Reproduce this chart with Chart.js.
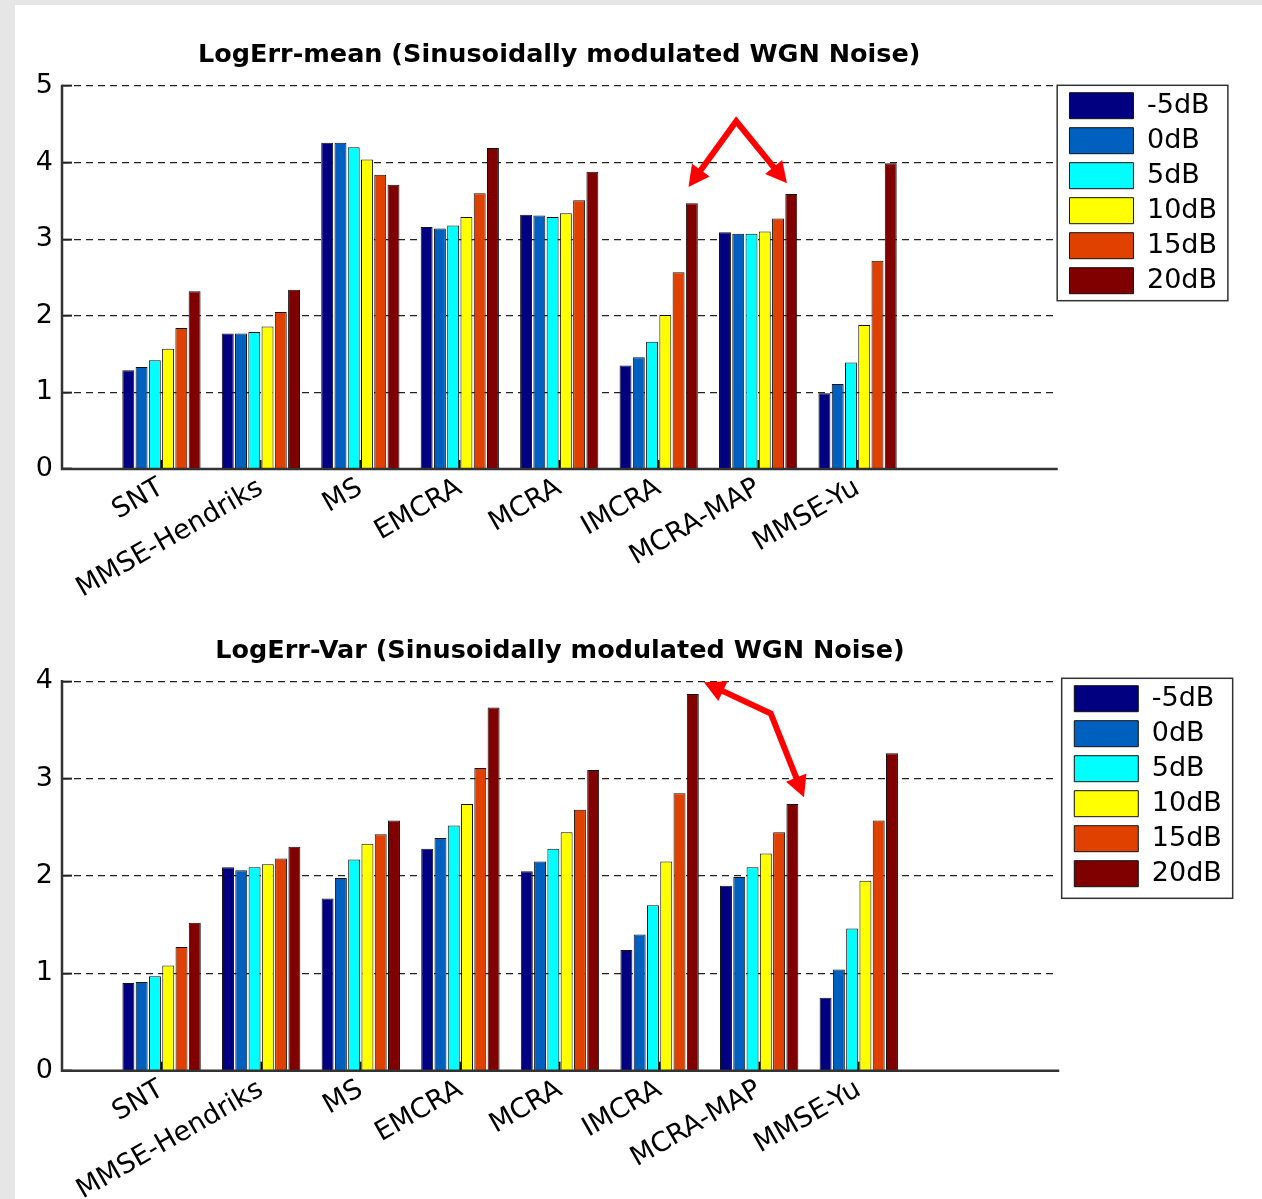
<!DOCTYPE html>
<html>
<head>
<meta charset="utf-8">
<title>LogErr (Sinusoidally modulated WGN Noise)</title>
<script src="https://cdn.jsdelivr.net/npm/chart.js@4.4.1/dist/chart.umd.min.js"></script>
<style>
  html, body { margin: 0; padding: 0; background: #e6e6e6; }
  body { width: 1262px; height: 1199px; position: relative; overflow: hidden; }
  .sheet { position: absolute; left: 15px; top: 5px; width: 1247px; height: 1194px; background: #fff; }
  .sheet canvas { position: absolute; left: 0; }
  #meanChart { top: 0; }
  #varChart { top: 595px; }
</style>
</head>
<body>
<div class="sheet">
  <canvas id="meanChart" width="1247" height="595"></canvas>
  <canvas id="varChart" width="1247" height="599"></canvas>
</div>
<script>
// ═══════════════════════════════════════════════════════
// LogErr-mean / LogErr-Var — noise estimators vs input SNR
// ═══════════════════════════════════════════════════════

// ─── DATA ───
const methods = ['SNT', 'MMSE-Hendriks', 'MS', 'EMCRA', 'MCRA', 'IMCRA', 'MCRA-MAP', 'MMSE-Yu'];
const snrLevels = ['-5dB', '0dB', '5dB', '10dB', '15dB', '20dB'];

const meanTicks = [0, 1, 2, 3, 4, 5];
const varTicks = [0, 1, 2, 3, 4];

// LogErr-mean, one array per SNR level (order follows `methods`)
const meanSnrM5 = [1.29, 1.77, 4.26, 3.16, 3.32, 1.35, 3.09, 0.99];
const meanSnr0  = [1.33, 1.77, 4.26, 3.14, 3.31, 1.46, 3.07, 1.11];
const meanSnr5  = [1.42, 1.79, 4.20, 3.18, 3.29, 1.66, 3.07, 1.39];
const meanSnr10 = [1.57, 1.86, 4.04, 3.29, 3.34, 2.01, 3.10, 1.88];
const meanSnr15 = [1.84, 2.05, 3.84, 3.60, 3.51, 2.57, 3.27, 2.72];
const meanSnr20 = [2.32, 2.34, 3.71, 4.19, 3.88, 3.47, 3.59, 3.99];

// LogErr-Var
const varSnrM5 = [0.90, 2.09, 1.77, 2.28, 2.05, 1.24, 1.90, 0.75];
const varSnr0  = [0.91, 2.06, 1.98, 2.39, 2.15, 1.40, 1.99, 1.04];
const varSnr5  = [0.97, 2.09, 2.17, 2.52, 2.28, 1.70, 2.09, 1.46];
const varSnr10 = [1.08, 2.12, 2.33, 2.74, 2.45, 2.15, 2.23, 1.95];
const varSnr15 = [1.27, 2.18, 2.43, 3.11, 2.68, 2.85, 2.45, 2.57];
const varSnr20 = [1.52, 2.30, 2.57, 3.73, 3.09, 3.87, 2.74, 3.26];

// red annotation arrows, in (category index, value) units
const meanArrow = [[6.30, 3.68], [6.78, 4.54], [7.29, 3.73]];
const varArrow = [[6.445, 3.99], [7.116, 3.67], [7.45, 2.81]];

(function () {
    'use strict';

    const FONT = 'DejaVu Sans';
    const levelColors = ['#000080', '#0060c0', '#00ffff', '#ffff00', '#e04000', '#800000'];

    Chart.defaults.font.family = FONT;
    Chart.defaults.color = '#000';

    // x runs 0..10 like the MATLAB axes, groups sit on 1..8
    const labels = ['', ...methods, '', ''];
    const pad = arr => [null, ...arr, null, null];

    // ─── PLUGINS ───
    const legendNudge = {
        id: 'legendNudge',
        afterLayout(chart, args, o) {
            const l = chart.legend;
            if (!l) return;
            l.left += o.dx; l.right += o.dx;
            l.top += o.dy; l.bottom += o.dy;
        }
    };

    const legendFrame = {
        id: 'legendFrame',
        afterDraw(chart, args, o) {
            const l = chart.legend;
            const p = chart.options.plugins.legend.labels.padding;
            const { ctx } = chart;
            ctx.save();
            ctx.setLineDash([]);
            ctx.strokeStyle = '#333';
            ctx.lineWidth = 1.5;
            ctx.strokeRect(l.left + p - o.inset, l.top + p - o.insetTop, o.w, o.h);
            ctx.restore();
        }
    };

    // solid left + bottom axis lines, MATLAB style (drawn over the bars' feet)
    const axisLines = {
        id: 'axisLines',
        afterDraw(chart) {
            const { ctx, chartArea: a } = chart;
            ctx.save();
            ctx.setLineDash([]);
            ctx.strokeStyle = '#333';
            ctx.lineWidth = 2.5;
            ctx.lineCap = 'square';
            ctx.beginPath();
            ctx.moveTo(a.left, a.top);
            ctx.lineTo(a.left, a.bottom);
            ctx.lineTo(a.right, a.bottom);
            ctx.stroke();
            ctx.restore();
        }
    };

    const arrows = {
        id: 'arrows',
        afterDatasetsDraw(chart, args, o) {
            const { ctx, scales: { x, y } } = chart;
            const pts = o.path.map(([a, b]) => [x.getPixelForValue(a), y.getPixelForValue(b)]);
            const L = 21, W = 11;
            const unit = (p, q) => {
                const dx = q[0] - p[0], dy = q[1] - p[1], d = Math.hypot(dx, dy);
                return [dx / d, dy / d];
            };
            const n = pts.length;
            const uStart = unit(pts[1], pts[0]);
            const uEnd = unit(pts[n - 2], pts[n - 1]);
            const line = pts.map(p => p.slice());
            line[0] = [pts[0][0] - uStart[0] * L * 0.8, pts[0][1] - uStart[1] * L * 0.8];
            line[n - 1] = [pts[n - 1][0] - uEnd[0] * L * 0.8, pts[n - 1][1] - uEnd[1] * L * 0.8];

            ctx.save();
            ctx.setLineDash([]);
            ctx.strokeStyle = '#ff0000';
            ctx.fillStyle = '#ff0000';
            ctx.lineWidth = 6;
            ctx.lineJoin = 'miter';
            ctx.beginPath();
            line.forEach((p, i) => i ? ctx.lineTo(p[0], p[1]) : ctx.moveTo(p[0], p[1]));
            ctx.stroke();

            [[pts[0], uStart], [pts[n - 1], uEnd]].forEach(([t, u]) => {
                const bx = t[0] - u[0] * L, by = t[1] - u[1] * L;
                ctx.beginPath();
                ctx.moveTo(t[0], t[1]);
                ctx.lineTo(bx - u[1] * W, by + u[0] * W);
                ctx.lineTo(bx + u[1] * W, by - u[0] * W);
                ctx.closePath();
                ctx.fill();
            });
            ctx.restore();
        }
    };

    // ─── CHART ───
    function buildChart(id, cfg) {
        const datasets = cfg.series.map((s, i) => ({
            label: snrLevels[i],
            data: pad(s),
            backgroundColor: levelColors[i],
            borderColor: '#111',
            borderWidth: 1,
            barPercentage: 0.9,
            categoryPercentage: 0.8
        }));

        return new Chart(document.getElementById(id), {
            type: 'bar',
            data: { labels, datasets },
            options: {
                responsive: false,
                animation: false,
                devicePixelRatio: 1,
                layout: { padding: { left: 7, right: cfg.padRight, top: 0, bottom: 0 } },
                plugins: {
                    tooltip: { enabled: false },
                    title: {
                        display: true,
                        fullSize: false,
                        text: cfg.title,
                        color: '#000',
                        font: { family: FONT, size: 25.5, weight: 'bold' },
                        padding: { top: cfg.titleTop, bottom: cfg.titleBottom }
                    },
                    legend: {
                        position: 'right',
                        align: 'start',
                        fullSize: false,
                        labels: {
                            boxWidth: 64,
                            boxHeight: 26,
                            padding: 8,
                            color: '#000',
                            font: { family: FONT, size: 27 }
                        }
                    },
                    legendNudge: cfg.nudge,
                    legendFrame: cfg.frame,
                    arrows: { path: cfg.arrow }
                },
                scales: {
                    x: {
                        type: 'category',
                        offset: false,
                        grid: {
                            offset: false,
                            drawOnChartArea: false,
                            drawTicks: true,
                            tickLength: -9,
                            tickWidth: 2,
                            tickColor: c => (c.index >= 1 && c.index <= methods.length) ? '#111' : 'rgba(0,0,0,0)'
                        },
                        border: { display: false },
                        ticks: {
                            autoSkip: false,
                            minRotation: 30,
                            maxRotation: 30,
                            padding: 12,
                            color: '#000',
                            font: { family: FONT, size: 27 }
                        },
                        afterFit: s => { s.height = cfg.xAxisHeight; }
                    },
                    y: {
                        min: 0,
                        max: cfg.ticks[cfg.ticks.length - 1],
                        afterBuildTicks: s => { s.ticks = cfg.ticks.map(v => ({ value: v })); },
                        grid: {
                            color: '#222',
                            lineWidth: 1.3,
                            drawTicks: true,
                            tickLength: -10,
                            tickWidth: 2,
                            tickColor: '#222'
                        },
                        border: { display: false, dash: [7, 5] },
                        ticks: {
                            padding: 19,
                            color: '#000',
                            font: { family: FONT, size: 27 }
                        },
                        afterFit: s => { s.width = 40; }
                    }
                }
            },
            plugins: [legendNudge, legendFrame, axisLines, arrows]
        });
    }

    // ─── INIT ───
    buildChart('meanChart', {
        title: 'LogErr-mean (Sinusoidally modulated WGN Noise)',
        series: [meanSnrM5, meanSnr0, meanSnr5, meanSnr10, meanSnr15, meanSnr20],
        ticks: meanTicks,
        arrow: meanArrow,
        padRight: 40,
        titleTop: 35,
        titleBottom: 15.4,
        xAxisHeight: 131,
        nudge: { dx: 5, dy: -1.8 },
        frame: { inset: 12.3, insetTop: 6.9, w: 170.7, h: 215.4 }
    });

    buildChart('varChart', {
        title: 'LogErr-Var (Sinusoidally modulated WGN Noise)',
        series: [varSnrM5, varSnr0, varSnr5, varSnr10, varSnr15, varSnr20],
        ticks: varTicks,
        arrow: varArrow,
        padRight: 38.5,
        titleTop: 35.7,
        titleBottom: 15,
        xAxisHeight: 128.3,
        nudge: { dx: 8.3, dy: -4.1 },
        frame: { inset: 12.6, insetTop: 6.9, w: 171, h: 220 }
    });

})();
</script>
</body>
</html>
